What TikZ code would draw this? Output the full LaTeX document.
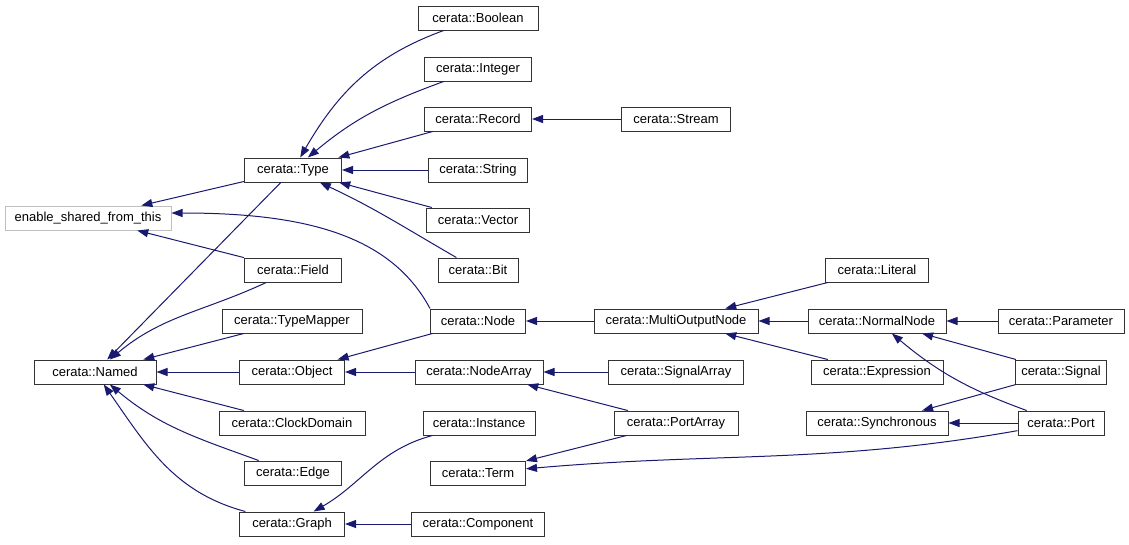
\documentclass[tikz,border=0pt]{standalone}
\usepackage{fontspec}
\setmainfont{Liberation Sans}
\usetikzlibrary{arrows.meta}
\definecolor{edgeblue}{RGB}{25,25,112}
\tikzset{
  cls/.style={draw=black!80, fill=white, line width=1pt, font=\fontsize{13}{15}\selectfont,
    minimum height=24pt, minimum width=#1, inner xsep=6pt, inner ysep=0pt},
  cls/.default=0pt,
  ext/.style={cls=#1, draw=black!25},
  inh/.style={draw=edgeblue, line width=1pt, -{Triangle[length=11pt,width=8pt]}}
}
\begin{document}
\begin{tikzpicture}[x=1pt, y=-1pt]
			\useasboundingbox (0,0) rectangle (1129,544);
			% left columns
			\node[ext=166pt] (esft) at (88,218) {enable\_shared\_from\_this};
			\node[cls=122pt] (named) at (95,372) {cerata::Named};
			\node[cls=97pt] (type) at (293,170) {cerata::Type};
			\node[cls=97pt] (field) at (293,270) {cerata::Field};
			\node[cls=140pt] (typemapper) at (292,321) {cerata::TypeMapper};
			\node[cls=105pt] (object) at (292,372) {cerata::Object};
			\node[cls=146pt] (clockdomain) at (292,423) {cerata::ClockDomain};
			\node[cls=97pt] (edge) at (293,473) {cerata::Edge};
			\node[cls=105pt] (graph) at (292,524) {cerata::Graph};
			% middle column
			\node[cls=120pt] (boolean) at (478,18) {cerata::Boolean};
			\node[cls=107pt] (integer) at (478,69) {cerata::Integer};
			\node[cls=107pt] (record) at (478,119) {cerata::Record};
			\node[cls=99pt] (string) at (478,170) {cerata::String};
			\node[cls=103pt] (vector) at (478,220) {cerata::Vector};
			\node[cls=80pt] (bit) at (478,270) {cerata::Bit};
			\node[cls=95pt] (node) at (478,321) {cerata::Node};
			\node[cls=128pt] (nodearray) at (479,372) {cerata::NodeArray};
			\node[cls=112pt] (instance) at (479,423) {cerata::Instance};
			\node[cls=95pt] (term) at (478,473) {cerata::Term};
			\node[cls=133pt] (component) at (478,524) {cerata::Component};
			% right columns
			\node[cls=109pt] (stream) at (676,119) {cerata::Stream};
			\node[cls=164pt] (multi) at (676,321) {cerata::MultiOutputNode};
			\node[cls=135pt] (signalarray) at (676,372) {cerata::SignalArray};
			\node[cls=124pt] (portarray) at (676,423) {cerata::PortArray};
			\node[cls=103pt] (literal) at (877,270) {cerata::Literal};
			\node[cls=138pt] (normal) at (877,321) {cerata::NormalNode};
			\node[cls=132pt] (expression) at (877,372) {cerata::Expression};
			\node[cls=142pt] (synchronous) at (877,423) {cerata::Synchronous};
			\node[cls=126pt] (parameter) at (1061,321) {cerata::Parameter};
			\node[cls=91pt] (signal) at (1061,372) {cerata::Signal};
			\node[cls=86pt] (port) at (1061,423) {cerata::Port};
			% inheritance edges
			\draw[inh] (type) -- (esft);
			\draw[inh] (type) -- (named);
			\draw[inh] (field) -- (esft);
			\draw[inh] (field) to[out=205, in=40] (named);
			\draw[inh] (typemapper) -- (named);
			\draw[inh] (object) -- (named);
			\draw[inh] (clockdomain) -- (named);
			\draw[inh] (edge) to[out=160, in=-40] (named);
			\draw[inh] (graph) to[out=165, in=-55] (named);
			\draw[inh] (node.north west) .. controls +(-40,-75) and +(130,0) .. ([yshift=5pt]esft.east);
			\draw[inh] (node) -- (object);
			\draw[inh] (boolean) to[out=200, in=60] (type);
			\draw[inh] (integer) to[out=200, in=40] (type);
			\draw[inh] (record) -- (type);
			\draw[inh] (string) -- (type);
			\draw[inh] (vector) -- (type);
			\draw[inh] (bit) to[out=150, in=-25] (type);
			\draw[inh] (stream) -- (record);
			\draw[inh] (multi) -- (node);
			\draw[inh] (nodearray) -- (object);
			\draw[inh] (literal) -- (multi);
			\draw[inh] (normal) -- (multi);
			\draw[inh] (expression) -- (multi);
			\draw[inh] (parameter) -- (normal);
			\draw[inh] (signal) -- (normal);
			\draw[inh] (port) to[out=160, in=-40] (normal);
			\draw[inh] (signal) -- (synchronous);
			\draw[inh] (port) -- (synchronous);
			\draw[inh] (signalarray) -- (nodearray);
			\draw[inh] (portarray) -- (nodearray);
			\draw[inh] (instance) to[out=195, in=30] (graph);
			\draw[inh] (component) -- (graph);
			\draw[inh] (portarray) -- (term);
			\draw[inh] (port) to[out=190, in=5] (term);
		\end{tikzpicture}
\end{document}
